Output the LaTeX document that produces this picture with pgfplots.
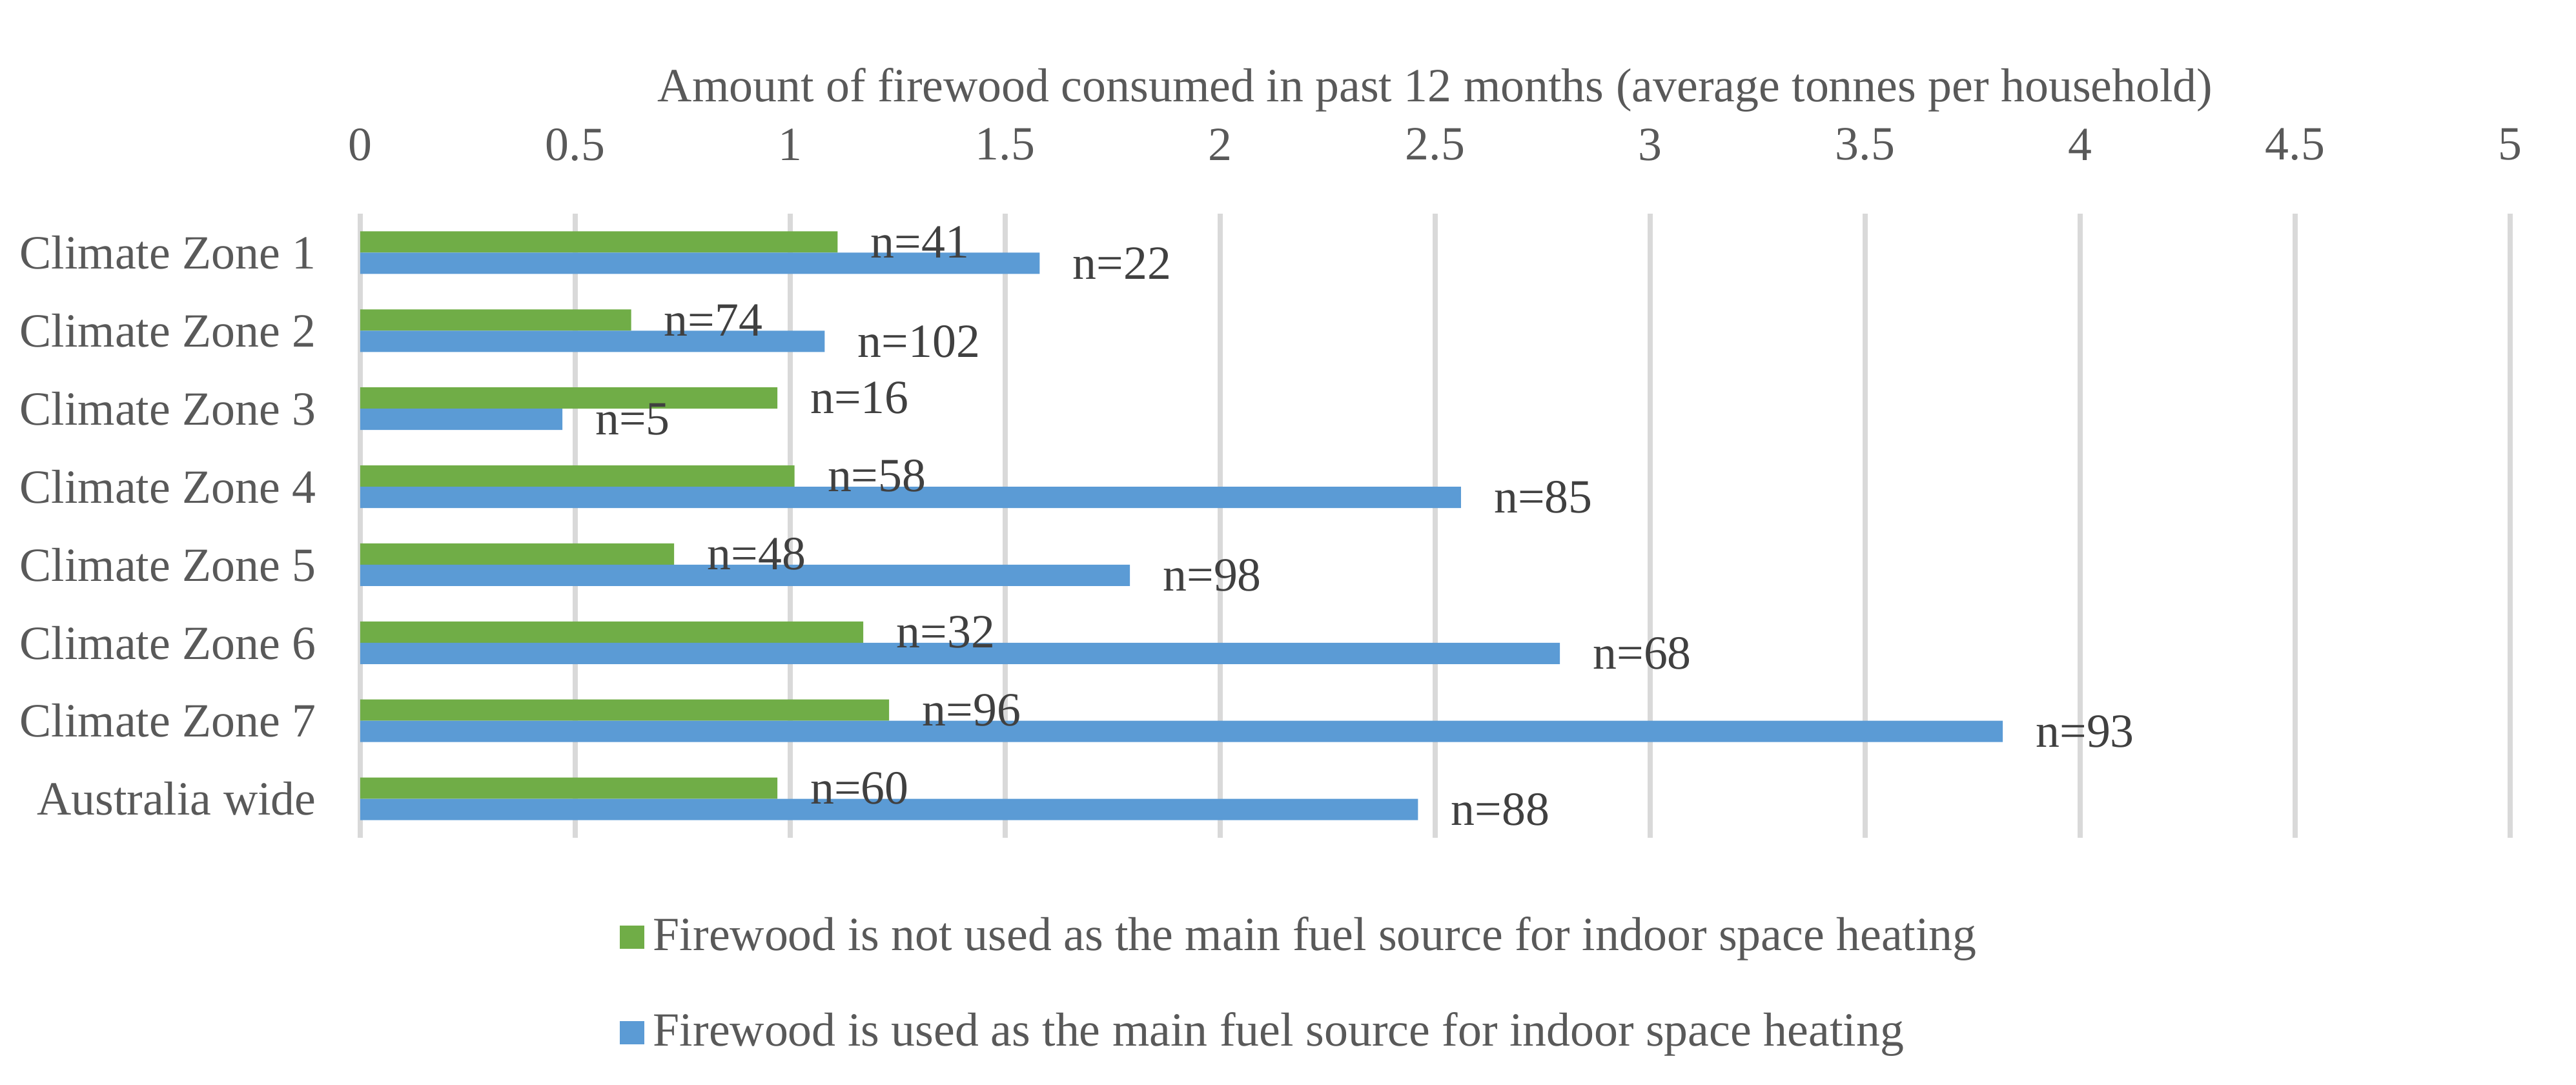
\documentclass[border=0pt]{standalone}
\usepackage{fontspec}
\setmainfont{Liberation Serif}
\usepackage{pgfplots}
\pgfplotsset{compat=1.18}
\usepackage{pgfplotstable}

\definecolor{notmain}{RGB}{112,173,71}
\definecolor{mainfuel}{RGB}{91,155,213}
\definecolor{gridgray}{RGB}{217,217,217}
\definecolor{labelgray}{RGB}{89,89,89}
\definecolor{datagray}{RGB}{64,64,64}

% average tonnes per household, n = sample size
\pgfplotstableread{
zone val n
0 1.11 41
1 0.63 74
2 0.97 16
3 1.01 58
4 0.73 48
5 1.17 32
6 1.23 96
7 0.97 60
}\notmaintable

\pgfplotstableread{
zone val n
0 1.58 22
1 1.08 102
2 0.47 5
3 2.56 85
4 1.79 98
5 2.79 68
6 3.82 93
7 2.46 88
}\maintable

\begin{document}
\fontsize{10.5}{12.6}\selectfont
\begin{tikzpicture}
\useasboundingbox (-2.79cm,-1.91cm) rectangle (17.16cm,6.49cm);
\begin{axis}[
    scale only axis,
    width=16.65cm, height=4.835cm,
    xbar, bar width=0.165cm,
    xmin=0, xmax=5,
    ymin=-0.5, ymax=7.5,
    y dir=reverse,
    xtick={0,0.5,...,5},
    xticklabel pos=upper,
    /pgf/number format/assume math mode=true,
    xticklabel style={anchor=center, yshift=0.535cm, inner sep=0pt,
        font=\fontsize{10.5}{12.6}\selectfont, text=labelgray},
    ytick={0,...,7},
    yticklabels={Climate Zone 1,Climate Zone 2,Climate Zone 3,Climate Zone 4,
        Climate Zone 5,Climate Zone 6,Climate Zone 7,Australia wide},
    yticklabel style={anchor=east, inner sep=0pt, xshift=-0.335cm,
        font=\fontsize{10.5}{12.6}\selectfont, text=labelgray},
    axis line style={draw=none},
    major tick length=0pt,
    xmajorgrids,
    grid style={gridgray, line width=1pt},
    xlabel={Amount of firewood consumed in past 12 months (average tonnes per household)},
    xlabel style={at={(axis description cs:0.5,1)}, anchor=center,
        yshift=0.96cm, inner sep=0pt, font=\fontsize{10.5}{12.6}\selectfont,
        text=labelgray},
    point meta=explicit symbolic,
    nodes near coords={n=\pgfplotspointmeta},
    nodes near coords style={anchor=west, inner sep=0pt, xshift=0.25cm,
        font=\fontsize{10.5}{12.6}\selectfont, text=datagray},
    legend style={at={(axis description cs:0.1204,-0.122)}, anchor=north west,
        draw=none, fill=none, inner sep=0pt, row sep=0.39cm,
        nodes={inner sep=0.5pt, font=\fontsize{10.5}{12.6}\selectfont, text=labelgray}},
    legend cell align=left,
    legend image code/.code={\fill[#1] (0cm,-0.09cm) rectangle (0.19cm,0.09cm);
        \path (0.24cm,0cm);},
]
\addplot[fill=notmain, draw=none, bar shift=0.0825cm]
    table[x=val, y=zone, meta=n] {\notmaintable};
\addplot[fill=mainfuel, draw=none, bar shift=-0.0825cm]
    table[x=val, y=zone, meta=n] {\maintable};
\legend{Firewood is not used as the main fuel source for indoor space heating,
    Firewood is used as the main fuel source for indoor space heating}
\end{axis}
\end{tikzpicture}
\end{document}
